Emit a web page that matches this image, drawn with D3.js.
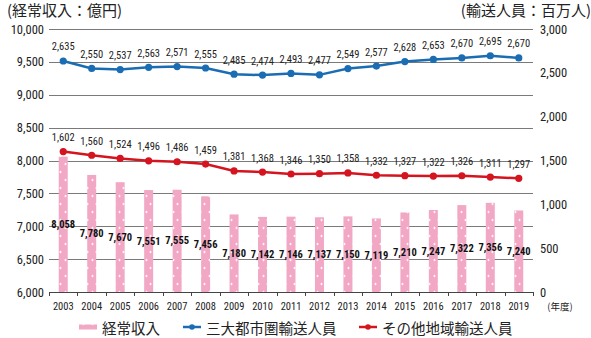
<!DOCTYPE html>
<html><head><meta charset="utf-8">
<script src="https://cdn.jsdelivr.net/npm/d3@7"></script>
<style>
body{margin:0;background:#fff;}
svg{display:block;}
.num{font-family:"Liberation Sans Narrow","Roboto Condensed","Liberation Sans",sans-serif;}
.jp{font-family:"Noto Sans CJK JP","Noto Sans",sans-serif;}
</style></head>
<body>
<svg id="c" width="591" height="338"></svg>
<script>
const years = ["2003","2004","2005","2006","2007","2008","2009","2010","2011","2012","2013","2014","2015","2016","2017","2018","2019"];
const revenue = [8058,7780,7670,7551,7555,7456,7180,7142,7146,7137,7150,7119,7210,7247,7322,7356,7240];
const metro = [2635,2550,2537,2563,2571,2555,2485,2474,2493,2477,2549,2577,2628,2653,2670,2695,2670];
const other = [1602,1560,1524,1496,1486,1459,1381,1368,1346,1350,1358,1332,1327,1322,1326,1311,1297];
const leftTicks = [6000,6500,7000,7500,8000,8500,9000,9500,10000];
const rightTicks = [0,500,1000,1500,2000,2500,3000];
const seriesNames = ["経常収入","三大都市圏輸送人員","その他地域輸送人員"];
const leftTitle = "(経常収入：億円)";
const rightTitle = "(輸送人員：百万人)";
const unitLabel = "(年度)";

const pink = "#f2a8c4", blue = "#1a6db3", red = "#d4151f";
const svg = d3.select("#c");
const L = 49, R = 533, T = 29, B = 292;
const x = d3.scaleBand().domain(years).range([L, R]);
const yL = d3.scaleLinear().domain([6000,10000]).range([B, T]);
const yR = d3.scaleLinear().domain([0,3000]).range([B, T]);
const fmt = d3.format(",");

// pattern
const defs = svg.append("defs");
const pat = defs.append("pattern").attr("id","dots").attr("patternUnits","userSpaceOnUse")
  .attr("width",9).attr("height",16).attr("x",0).attr("y",0);
pat.append("rect").attr("width",9).attr("height",16).attr("fill",pink);
[[2.5,4],[6.5,12]].forEach(([cx,cy])=>{
  pat.append("rect").attr("x",cx-1.2).attr("y",cy-0.4).attr("width",2.4).attr("height",0.8).attr("fill","#fff");
  pat.append("rect").attr("x",cx-0.4).attr("y",cy-1.2).attr("width",0.8).attr("height",2.4).attr("fill","#fff");
});

// gridlines
svg.append("g").selectAll("line").data(leftTicks.slice(1)).join("line")
  .attr("x1",L).attr("x2",R).attr("y1",d=>Math.round(yL(d))+0.5).attr("y2",d=>Math.round(yL(d))+0.5)
  .attr("stroke","#7a7a7a").attr("stroke-width",1);

// bars
const bw = 9;
svg.append("g").selectAll("rect").data(revenue).join("rect")
  .attr("x",(d,i)=>x(years[i])+x.bandwidth()/2-bw/2)
  .attr("y",d=>yL(d)).attr("width",bw).attr("height",d=>B-yL(d))
  .attr("fill","url(#dots)");

// bottom axis
const xAxis = d3.axisBottom(x).tickSize(0).tickPadding(11);
const gx = svg.append("g").attr("transform",`translate(0,${B})`).call(xAxis);
gx.select(".domain").attr("stroke","#444").attr("d",`M${L},0.5H${R}`);
gx.selectAll("text").attr("class","num").style("font-size","10.5px").attr("fill","#222");
svg.append("g").selectAll("line").data(d3.range(years.length+1)).join("line")
  .attr("x1",i=>Math.round(L+i*x.step())+0.5).attr("x2",i=>Math.round(L+i*x.step())+0.5)
  .attr("y1",B).attr("y2",B+4).attr("stroke","#444");

// left axis
const gl = svg.append("g").attr("transform",`translate(${L},0)`)
  .call(d3.axisLeft(yL).tickValues(leftTicks).tickFormat(fmt).tickSize(0).tickPadding(5));
gl.select(".domain").remove();
gl.selectAll("text").attr("class","num").style("font-size","12.5px").attr("fill","#222");

// right axis
const gr = svg.append("g").attr("transform",`translate(${R},0)`)
  .call(d3.axisRight(yR).tickValues(rightTicks).tickFormat(fmt).tickSize(0).tickPadding(7));
gr.select(".domain").remove();
gr.selectAll("text").attr("class","num").style("font-size","12.5px").attr("fill","#222");

// lines
function drawLine(data, color){
  const line = d3.line().x((d,i)=>x(years[i])+x.bandwidth()/2).y(d=>yR(d));
  svg.append("path").datum(data).attr("d",line).attr("fill","none").attr("stroke",color).attr("stroke-width",2.5);
  svg.append("g").selectAll("circle").data(data).join("circle")
    .attr("cx",(d,i)=>x(years[i])+x.bandwidth()/2).attr("cy",d=>yR(d)).attr("r",3.6).attr("fill",color);
  svg.append("g").selectAll("text").data(data).join("text").attr("class","num")
    .attr("x",(d,i)=>x(years[i])+x.bandwidth()/2).attr("y",d=>yR(d)-14)
    .attr("text-anchor","middle").attr("dominant-baseline","central")
    .style("font-size","10.5px").attr("fill","#222").text(fmt);
}
drawLine(metro, blue);
drawLine(other, red);

// bar labels (at bar midpoints)
svg.append("g").selectAll("text").data(revenue).join("text").attr("class","num")
  .attr("x",(d,i)=>x(years[i])+x.bandwidth()/2).attr("y",d=>(yL(d)+B)/2)
  .attr("text-anchor","middle").attr("dominant-baseline","central")
  .style("font-size","10.5px").style("font-weight","bold").attr("fill","#111").text(fmt);

// titles
svg.append("text").attr("class","jp").attr("x",7).attr("y",9).attr("dominant-baseline","central")
  .style("font-size","15px").attr("fill","#222").text(leftTitle);
svg.append("text").attr("class","jp").attr("x",591).attr("y",9).attr("dominant-baseline","central")
  .attr("text-anchor","end").style("font-size","15px").attr("fill","#222").text(rightTitle);
svg.append("text").attr("class","jp").attr("x",560).attr("y",306).attr("dominant-baseline","central")
  .attr("text-anchor","middle").style("font-size","9.5px").attr("fill","#222").text(unitLabel);

// legend
const lg = svg.append("g");
const items = [{x:79,name:seriesNames[0],type:"bar",c:pink},{x:183,name:seriesNames[1],type:"line",c:blue},{x:359,name:seriesNames[2],type:"line",c:red}];
items.forEach(it=>{
  const ly = 327;
  if(it.type==="bar"){
    lg.append("rect").attr("x",it.x).attr("y",ly-2.5).attr("width",18).attr("height",5).attr("fill","url(#dots)");
  } else {
    lg.append("line").attr("x1",it.x).attr("x2",it.x+18).attr("y1",ly).attr("y2",ly).attr("stroke",it.c).attr("stroke-width",2.5);
    lg.append("circle").attr("cx",it.x+9).attr("cy",ly).attr("r",2.8).attr("fill",it.c);
  }
  lg.append("text").attr("class","jp").attr("x",it.x+23).attr("y",ly).attr("dominant-baseline","central")
    .style("font-size","14.5px").attr("fill","#222").text(it.name);
});
</script>
</body></html>
